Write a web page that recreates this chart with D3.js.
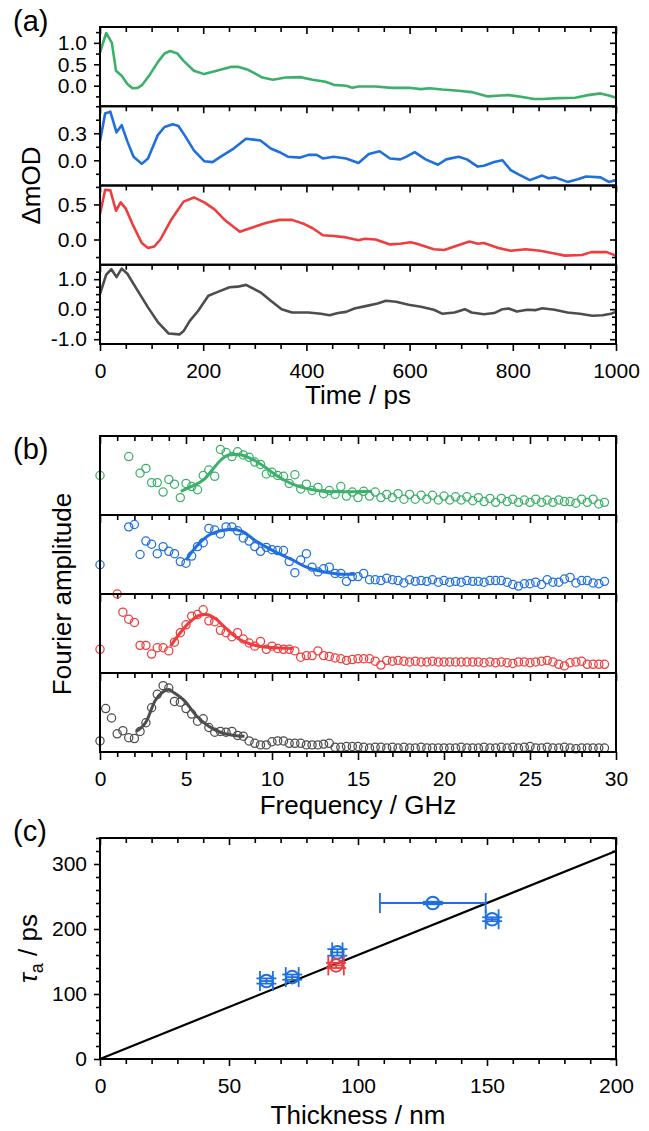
<!DOCTYPE html>
<html><head><meta charset="utf-8">
<script src="https://cdn.jsdelivr.net/npm/d3@7"></script>
<style>body{margin:0;background:#fff}svg{display:block}</style>
</head><body><svg id="chart" width="649" height="1131"></svg>
<script>
// ---------------- DATA ----------------
// Panel (a): transient traces (time in ps, ΔmOD)
const timeGreen = [0,12,23,31,42,53,63,73,82,95,112,125,136,150,162,182,202,226,255,267,287,315,335,360,388,412,437,453,477,489,501,534,566,598,622,639,663,695,720,752,776,792,816,841,857,889,921,946,970,986,1000];
const odGreen = [0.77,1.23,1.0,0.35,0.23,0.04,-0.06,-0.05,0.02,0.23,0.55,0.75,0.81,0.75,0.58,0.35,0.27,0.35,0.44,0.44,0.37,0.19,0.14,0.19,0.2,0.14,0.09,0.02,0.0,-0.05,-0.02,-0.02,-0.05,-0.05,-0.08,-0.06,-0.09,-0.12,-0.15,-0.25,-0.23,-0.22,-0.26,-0.31,-0.31,-0.29,-0.28,-0.22,-0.18,-0.23,-0.28];
const timeBlue = [0,10,20,32,42,53,65,81,93,112,125,141,152,166,182,202,218,234,259,283,311,331,348,364,388,404,420,432,453,477,501,521,542,562,582,594,610,631,655,671,695,711,732,744,764,780,796,812,833,857,869,882,906,926,942,970,986,1000];
const odBlue = [0.21,0.52,0.54,0.31,0.39,0.21,0.04,-0.04,0.02,0.28,0.37,0.40,0.38,0.26,0.11,-0.01,-0.02,0.04,0.13,0.24,0.22,0.13,0.09,0.04,0.03,0.06,0.06,0.02,0.04,0.02,-0.03,0.07,0.10,0.02,0.01,0.04,0.09,0.01,-0.05,0.01,0.04,0.01,-0.07,-0.06,-0.02,0.0,-0.11,-0.16,-0.22,-0.17,-0.20,-0.19,-0.24,-0.21,-0.18,-0.19,-0.24,-0.22];
const timeRed = [0,10,20,31,40,50,63,81,93,105,117,137,162,182,202,222,243,271,291,323,348,372,396,412,432,453,477,501,513,534,562,582,602,614,647,667,687,716,732,744,772,796,825,853,881,901,934,952,982,1000];
const odRed = [0.36,0.71,0.70,0.41,0.53,0.44,0.22,-0.05,-0.12,-0.10,0.0,0.27,0.54,0.60,0.53,0.43,0.27,0.11,0.16,0.24,0.28,0.28,0.22,0.16,0.06,0.05,0.03,-0.01,0.01,0.0,-0.07,-0.06,-0.04,-0.06,-0.14,-0.15,-0.10,-0.03,-0.06,-0.05,-0.12,-0.16,-0.14,-0.16,-0.20,-0.23,-0.22,-0.18,-0.18,-0.23];
const timeGrey = [0,12,22,32,42,53,73,93,113,133,154,162,174,190,210,226,251,267,283,311,331,352,372,404,428,445,461,477,493,517,538,554,574,598,622,647,663,687,707,720,744,764,780,792,808,828,845,857,881,906,930,954,974,990,1000];
const odGrey = [0.5,1.15,1.33,1.07,1.35,1.18,0.62,0.06,-0.45,-0.81,-0.84,-0.73,-0.39,-0.06,0.45,0.56,0.73,0.75,0.81,0.56,0.28,0.0,-0.11,-0.11,-0.15,-0.2,-0.13,-0.09,0.02,0.11,0.19,0.28,0.25,0.15,0.08,-0.02,-0.15,-0.11,0.0,-0.11,-0.17,-0.13,0.0,0.02,-0.08,-0.02,-0.03,0.03,-0.02,-0.11,-0.15,-0.22,-0.2,-0.15,-0.09];

const timeTicks = [0,200,400,600,800,1000];
const odTicksGreen = [0.0,0.5,1.0];
const odTicksBlue = [0.0,0.3];
const odTicksRed = [0.0,0.5];
const odTicksGrey = [-1.0,0.0,1.0];

// Panel (b): Fourier amplitude (arb. units) vs frequency (GHz)
const freq = [0,0.33,0.67,1,1.33,1.67,2,2.33,2.67,3,3.33,3.67,4,4.33,4.67,5,5.33,5.67,6,6.33,6.67,7,7.33,7.67,8,8.33,8.67,9,9.33,9.67,10,10.33,10.67,11,11.33,11.67,12,12.33,12.67,13,13.33,13.67,14,14.33,14.67,15,15.33,15.67,16,16.33,16.67,17,17.33,17.67,18,18.33,18.67,19,19.33,19.67,20,20.33,20.67,21,21.33,21.67,22,22.33,22.67,23,23.33,23.67,24,24.33,24.67,25,25.33,25.67,26,26.33,26.67,27,27.33,27.67,28,28.33,28.67,29,29.33];
const ampGreen = [50,140,150,130,110,74,110,53,59,41,41,29,45,39,22,40,36,32,50,57,49,83,79,74,80,76,73,67,64,52,54,50,49,40,51,33,39,31,35,27,31,26,36,24,29,22,30,24,29,22,26,22,27,20,26,20,25,20,25,19,24,19,23,19,23,18,22,17,21,16,21,17,20,16,19,16,20,16,19,16,19,17,17,15,20,16,20,14,16];
const ampBlue = [37,130,140,120,110,85,88,50,67,63,51,60,54,51,41,39,48,60,65,83,81,76,85,85,80,71,67,60,54,59,56,55,55,41,27,43,51,34,28,32,34,26,26,16,22,22,26,18,18,17,20,18,17,14,18,16,17,16,18,15,17,15,16,15,17,16,16,15,17,17,17,15,12,10,13,13,15,12,18,15,15,19,21,14,17,17,14,13,16];
const ampRed = [30,130,120,100,77,68,64,35,35,24,32,32,28,39,51,61,72,74,80,66,65,54,51,46,51,43,38,34,40,30,34,31,30,30,28,20,22,22,28,22,21,19,18,16,17,18,18,18,15,10,16,15,16,15,14,15,14,14,15,14,14,14,14,14,14,14,14,13,14,13,14,13,12,14,14,13,14,15,16,14,11,9,13,14,15,11,11,11,11];
const ampGrey = [14,55,43,23,27,18,17,26,37,56,73,84,81,64,63,55,48,39,42,31,25,26,25,26,21,20,14,11,9,9,13,14,14,11,11,11,9,9,9,10,11,6,6,7,7,7,6,5,6,6,5,6,5,6,5,5,6,5,5,5,5,5,5,6,5,5,5,6,5,5,6,5,6,5,6,7,5,5,6,5,5,6,5,4,5,5,5,5,5];
// fitted curves
const fitFreqGreen = [4.7,5.3,6.1,6.6,7.0,7.5,8.0,8.5,9.0,9.7,10.4,11.2,11.9,12.6,13.6,14.6,15.8];
const fitAmpGreen = [30,36,46,59,69,76,77,74,69,59,48,39,34,31,29.5,29.5,30];
const fitFreqBlue = [5.0,5.6,6.3,7.0,7.6,8.3,9.0,9.7,10.4,11.2,11.9,12.6,13.3,14.1,14.8];
const fitAmpBlue = [43,60,74,80,82,79,68,59,51,43,35,30,27,25,25];
const fitFreqRed = [4.1,4.6,5.2,5.8,6.2,6.7,7.3,8.0,8.7,9.5,10.2,11.2];
const fitAmpRed = [34,49,64,73,74,69,57,44,37,33,32,31];
const fitFreqGrey = [2.1,2.7,3.2,3.6,4.0,4.3,4.9,5.6,6.3,7.0,7.8,8.4];
const fitAmpGrey = [26,39,65,75,79,75,65,46,33,25,21,20];
const freqTicks = [0,5,10,15,20,25,30];

// Panel (c): tau_a vs thickness
const thickness = [64.5,74.5,92,91.5,129,152];
const tauA = [120,126,164,144,240,215];
const thicknessErr = [2.5,2.5,2,3,20.5,2.5];
const tauErr = [4,4,5,4,2,3];
const pointGroup = ["blue","blue","blue","red","blue","blue"];
const fitThickness = [0,200];
const fitTau = [0,320];
const thicknessTicks = [0,50,100,150,200];
const tauTicks = [0,100,200,300];

// ---------------- DRAWING ----------------
const COL = {green:"#3bb06a", blue:"#1f6fde", red:"#ef3d3d", grey:"#4d4d4d"};
const FONT = '"Liberation Sans", Arial, Helvetica, sans-serif';
const TICK_FS = 21, TITLE_FS = 26, PANEL_FS = 29;
const svg = d3.select("#chart").attr("font-family", FONT);
const L = 100, R = 616;

function styleAxis(sel, fs) {
  sel.select(".domain").remove();
  sel.selectAll(".tick line").attr("stroke","#000").attr("stroke-width",1.6);
  sel.selectAll("text").attr("font-family",FONT).attr("font-size",fs||TICK_FS).attr("fill","#000");
  return sel;
}
function addAxis(axis, tx, ty) {
  return styleAxis(svg.append("g").attr("transform",`translate(${tx},${ty})`).call(axis));
}
function minorVals(domain, step, majors) {
  const out = [];
  const s = Math.ceil(domain[0]/step - 1e-9), e = Math.floor(domain[1]/step + 1e-9);
  for (let i = s; i <= e; i++) {
    const v = +(i*step).toFixed(6);
    if (!majors.some(m => Math.abs(m - v) < 1e-6)) out.push(v);
  }
  return out;
}
function frameRect(top, bottom) {
  svg.append("rect").attr("x",L).attr("y",top).attr("width",R-L).attr("height",bottom-top)
    .attr("fill","none").attr("stroke","#000").attr("stroke-width",2);
}
const fmt1 = d => d.toFixed(1);

// ----- Panel (a) -----
const aTop = 27, aBot = 344, aH = (aBot - aTop) / 4;
const xA = d3.scaleLinear().domain([0,1000]).range([L,R]);
const aPanels = [
  {t:timeGreen, v:odGreen, c:COL.green, dom:[-0.48,1.37], ticks:odTicksGreen, minor:0.25},
  {t:timeBlue, v:odBlue, c:COL.blue, dom:[-0.28,0.60], ticks:odTicksBlue, minor:0.15},
  {t:timeRed, v:odRed, c:COL.red, dom:[-0.36,0.77], ticks:odTicksRed, minor:0.25},
  {t:timeGrey, v:odGrey, c:COL.grey, dom:[-1.16,1.48], ticks:odTicksGrey, minor:0.25},
];
const timeMinor = minorVals([0,1000], 50, timeTicks);
aPanels.forEach((p, i) => {
  const top = aTop + i*aH, bot = top + aH;
  const y = d3.scaleLinear().domain(p.dom).range([bot, top]);
  const yMinor = minorVals(p.dom, p.minor, p.ticks);
  addAxis(d3.axisLeft(y).tickValues(p.ticks).tickSize(6).tickPadding(7).tickFormat(fmt1), L, 0);
  addAxis(d3.axisLeft(y).tickValues(yMinor).tickSize(4).tickFormat(""), L, 0);
  addAxis(d3.axisLeft(y).tickValues(p.ticks).tickSize(6).tickFormat(""), R, 0);
  addAxis(d3.axisLeft(y).tickValues(yMinor).tickSize(4).tickFormat(""), R, 0);
  addAxis(d3.axisBottom(xA).tickValues(timeTicks).tickSize(7).tickFormat(""), 0, top);
  addAxis(d3.axisBottom(xA).tickValues(timeMinor).tickSize(5).tickFormat(""), 0, top);
  const cp = "clipA" + i;
  svg.append("clipPath").attr("id",cp).append("rect").attr("x",L).attr("y",top).attr("width",R-L).attr("height",aH);
  svg.append("path").datum(p.t.map((t,k)=>[t,p.v[k]]))
    .attr("clip-path",`url(#${cp})`)
    .attr("fill","none").attr("stroke",p.c).attr("stroke-width",2.6).attr("stroke-linejoin","round")
    .attr("d", d3.line().x(d=>xA(d[0])).y(d=>y(d[1])));
  frameRect(top, bot);
});
addAxis(d3.axisBottom(xA).tickValues(timeTicks).tickSize(7).tickPadding(12).tickFormat(d3.format("d")), 0, aBot);
addAxis(d3.axisBottom(xA).tickValues(timeMinor).tickSize(5).tickFormat(""), 0, aBot);
svg.append("text").attr("x",(L+R)/2).attr("y",404).attr("text-anchor","middle").attr("font-size",TITLE_FS).text("Time / ps");
svg.append("text").attr("transform",`translate(40,${(aTop+aBot)/2}) rotate(-90)`).attr("text-anchor","middle").attr("font-size",TITLE_FS).text("ΔmOD");
svg.append("text").attr("x",13).attr("y",31).attr("font-size",PANEL_FS).text("(a)");

// ----- Panel (b) -----
const bTop = 436, bBot = 752, bH = (bBot - bTop) / 4;
const xB = d3.scaleLinear().domain([0,30]).range([L,R]);
const freqMinor = minorVals([0,30], 1, freqTicks);
const bPanels = [
  {a:ampGreen, ff:fitFreqGreen, fa:fitAmpGreen, c:COL.green},
  {a:ampBlue, ff:fitFreqBlue, fa:fitAmpBlue, c:COL.blue},
  {a:ampRed, ff:fitFreqRed, fa:fitAmpRed, c:COL.red},
  {a:ampGrey, ff:fitFreqGrey, fa:fitAmpGrey, c:COL.grey},
];
bPanels.forEach((p, i) => {
  const top = bTop + i*bH, bot = top + bH;
  const y = d3.scaleLinear().domain([0,100]).range([bot, top]);
  addAxis(d3.axisBottom(xB).tickValues(freqTicks).tickSize(8).tickFormat(""), 0, top);
  addAxis(d3.axisBottom(xB).tickValues(freqMinor).tickSize(5).tickFormat(""), 0, top);
  const pts = freq.map((f,k)=>[f,p.a[k]]).filter(d => d[1] <= 103);
  svg.append("g").selectAll("circle").data(pts).join("circle")
    .attr("cx",d=>xB(d[0])).attr("cy",d=>y(d[1])).attr("r",4.1)
    .attr("fill","none").attr("stroke",p.c).attr("stroke-width",1.25);
  svg.append("path").datum(p.ff.map((f,k)=>[f,p.fa[k]]))
    .attr("fill","none").attr("stroke",p.c).attr("stroke-width",3).attr("stroke-linejoin","round")
    .attr("d", d3.line().curve(d3.curveMonotoneX).x(d=>xB(d[0])).y(d=>y(d[1])));
  frameRect(top, bot);
});
addAxis(d3.axisBottom(xB).tickValues(freqTicks).tickSize(8).tickPadding(11).tickFormat(d3.format("d")), 0, bBot);
addAxis(d3.axisBottom(xB).tickValues(freqMinor).tickSize(5).tickFormat(""), 0, bBot);
svg.append("text").attr("x",(L+R)/2).attr("y",814).attr("text-anchor","middle").attr("font-size",TITLE_FS).text("Frequency / GHz");
svg.append("text").attr("transform",`translate(71,${(bTop+bBot)/2}) rotate(-90)`).attr("text-anchor","middle").attr("font-size",TITLE_FS).text("Fourier amplitude");
svg.append("text").attr("x",13).attr("y",459).attr("font-size",PANEL_FS).text("(b)");

// ----- Panel (c) -----
const cTop = 838, cBot = 1059;
const xC = d3.scaleLinear().domain([0,200]).range([L,R]);
const yC = d3.scaleLinear().domain([0,340]).range([cBot,cTop]);
const thickMinor = minorVals([0,200],10,thicknessTicks);
const tauMinor = minorVals([0,340],20,tauTicks);
addAxis(d3.axisLeft(yC).tickValues(tauTicks).tickSize(6).tickPadding(7).tickFormat(d3.format("d")), L, 0);
addAxis(d3.axisLeft(yC).tickValues(tauMinor).tickSize(4).tickFormat(""), L, 0);
addAxis(d3.axisLeft(yC).tickValues(tauTicks).tickSize(6).tickFormat(""), R, 0);
addAxis(d3.axisLeft(yC).tickValues(tauMinor).tickSize(4).tickFormat(""), R, 0);
addAxis(d3.axisBottom(xC).tickValues(thicknessTicks).tickSize(7).tickFormat(""), 0, cTop);
addAxis(d3.axisBottom(xC).tickValues(thickMinor).tickSize(5).tickFormat(""), 0, cTop);
addAxis(d3.axisBottom(xC).tickValues(thicknessTicks).tickSize(7).tickPadding(12).tickFormat(d3.format("d")), 0, cBot);
addAxis(d3.axisBottom(xC).tickValues(thickMinor).tickSize(5).tickFormat(""), 0, cBot);

svg.append("path").datum(fitThickness.map((x,k)=>[x,fitTau[k]]))
  .attr("fill","none").attr("stroke","#000").attr("stroke-width",2.2)
  .attr("d", d3.line().x(d=>xC(d[0])).y(d=>yC(d[1])));

const CAP = 10;
const gPts = svg.append("g");
thickness.forEach((t,k) => {
  const c = COL[pointGroup[k]];
  const cx = xC(t), cy = yC(tauA[k]);
  const x0 = xC(t - thicknessErr[k]), x1 = xC(t + thicknessErr[k]);
  const y0 = yC(tauA[k] - tauErr[k]), y1 = yC(tauA[k] + tauErr[k]);
  const g = gPts.append("g").attr("stroke",c).attr("stroke-width",1.8).attr("fill","none");
  g.append("line").attr("x1",x0).attr("x2",x1).attr("y1",cy).attr("y2",cy);
  g.append("line").attr("x1",cx).attr("x2",cx).attr("y1",y0).attr("y2",y1);
  [x0,x1].forEach(xx => g.append("line").attr("x1",xx).attr("x2",xx).attr("y1",cy-CAP).attr("y2",cy+CAP));
  [y0,y1].forEach(yy => g.append("line").attr("x1",cx-CAP).attr("x2",cx+CAP).attr("y1",yy).attr("y2",yy));
  g.append("circle").attr("cx",cx).attr("cy",cy).attr("r",6.3).attr("stroke-width",2);
});
frameRect(cTop, cBot);
svg.append("text").attr("x",(L+R)/2).attr("y",1124).attr("text-anchor","middle").attr("font-size",TITLE_FS).text("Thickness / nm");
const tl = svg.append("text").attr("transform",`translate(37,${(cTop+cBot)/2}) rotate(-90)`).attr("text-anchor","middle").attr("font-size",TITLE_FS);
tl.append("tspan").attr("font-style","italic").text("τ");
tl.append("tspan").attr("font-size",18).attr("dy",6).text("a");
tl.append("tspan").attr("dy",-6).text(" / ps");
svg.append("text").attr("x",13).attr("y",841).attr("font-size",PANEL_FS).text("(c)");
</script></body></html>
